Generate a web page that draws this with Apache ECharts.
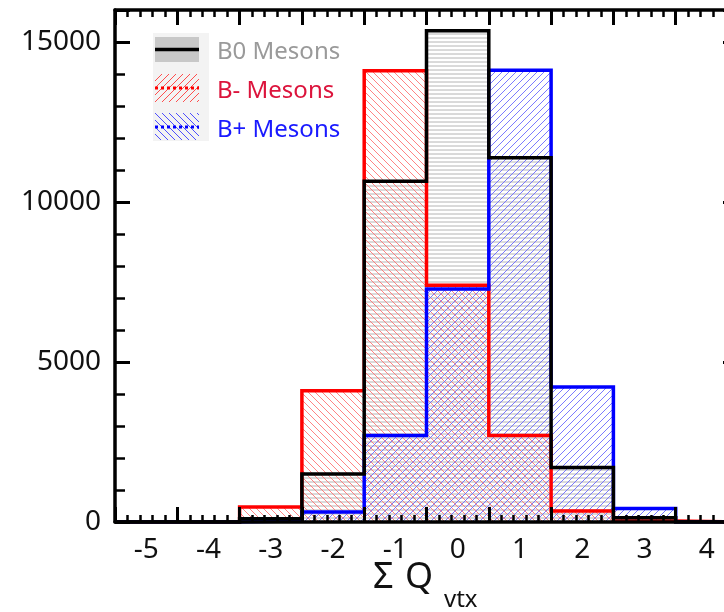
<!DOCTYPE html>
<html>
<head>
<meta charset="utf-8">
<script src="https://cdn.jsdelivr.net/npm/echarts@6/dist/echarts.min.js"></script>
<style>html,body{margin:0;padding:0;background:#fff;}#main{width:724px;height:612px;}</style>
</head>
<body>
<div id="main"></div>
<script>
// ---- data (bin centres and counts) ----
const categories = [-5, -4, -3, -2, -1, 0, 1, 2, 3, 4];
const b0Mesons    = [0, 0, 100, 1500, 10650, 15350, 11380, 1700, 130, 0];
const bMinusMesons = [0, 0, 470, 4100, 14100, 7400, 2700, 340, 30, 0];
const bPlusMesons  = [0, 0, 40, 310, 2700, 7280, 14120, 4220, 420, 0];
const yTicks = [0, 5000, 10000, 15000];
const legendNames = ['B0 Mesons', 'B- Mesons', 'B+ Mesons'];

const FONT = 'Noto Sans';

function hatch(color, dir, size, lw) {
  const c = document.createElement('canvas');
  c.width = size; c.height = size;
  const ctx = c.getContext('2d');
  ctx.strokeStyle = color; ctx.lineWidth = lw;
  ctx.beginPath();
  if (dir === 'h') {
    ctx.moveTo(0, size / 2); ctx.lineTo(size, size / 2);
  } else if (dir === 'back') { // "\"
    for (const k of [-size, 0, size]) { ctx.moveTo(0, k); ctx.lineTo(size, k + size); }
  } else { // "/"
    for (const k of [-size, 0, size]) { ctx.moveTo(0, k + size); ctx.lineTo(size, k); }
  }
  ctx.stroke();
  return { image: c, repeat: 'repeat' };
}

const patGray = hatch('#b4b4b4', 'h', 4, 1);
const patRed = hatch('rgba(255,110,110,0.85)', 'back', 7, 1);
const patBlue = hatch('rgba(100,100,255,0.85)', 'fwd', 7, 1);
const patRedLeg = hatch('rgba(255,60,60,0.9)', 'fwd', 7, 1);
const patBlueLeg = hatch('rgba(60,60,255,0.9)', 'back', 7, 1);

function barData(vals) { return categories.map((c, i) => [c, vals[i]]); }
function stepData(vals) {
  const pts = [[categories[0] - 0.5, 0]];
  categories.forEach((c, i) => { pts.push([c - 0.5, vals[i]]); pts.push([c + 0.5, vals[i]]); });
  pts.push([categories[categories.length - 1] + 0.5, 0]);
  return pts;
}
function fillSeries(vals, pat, z) {
  return {
    type: 'custom', xAxisIndex: 0, yAxisIndex: 0, z: z, clip: true, silent: true,
    data: barData(vals),
    renderItem: function (params, api) {
      const x = api.value(0), v = api.value(1);
      const p1 = api.coord([x - 0.5, v]);
      const p2 = api.coord([x + 0.5, 0]);
      return { type: 'rect', shape: { x: p1[0], y: p1[1], width: p2[0] - p1[0], height: p2[1] - p1[1] }, style: { fill: pat } };
    }
  };
}
function lineSeries(name, vals, color, z) {
  return {
    name: name, type: 'line', xAxisIndex: 0, yAxisIndex: 0, z: z, symbol: 'none', silent: true,
    data: stepData(vals), lineStyle: { color: color, width: 3.5, join: 'miter' }
  };
}

const xMin = -5.5, xMax = 4.5;
const tickStyle = { show: true, inside: true, length: 15, lineStyle: { color: '#000', width: 3 } };
const minorStyle = { show: true, splitNumber: 5, length: 7, lineStyle: { color: '#000', width: 2.5 } };
const lineStyleAxis = { show: true, onZero: false, lineStyle: { color: '#000', width: 3.5 } };

const chart = echarts.init(document.getElementById('main'), null, { renderer: 'canvas' });
chart.setOption({
  animation: false,
  backgroundColor: '#fff',
  grid: { left: 115, width: 623, top: 10, height: 512, show: false, containLabel: false, outerBoundsMode: 'none' },
  xAxis: [
    { type: 'value', position: 'bottom', min: xMin, max: xMax, interval: 0.5, z: 10,
      axisLine: { show: false }, axisTick: { show: false }, splitLine: { show: false },
      axisLabel: { margin: 14, color: '#111', fontFamily: FONT, fontSize: 28,
        formatter: v => (Math.abs(v - Math.round(v)) < 1e-6 && categories.indexOf(Math.round(v)) >= 0) ? String(Math.round(v)) : '' } },
    { type: 'value', position: 'bottom', min: xMin, max: xMax, interval: 1, z: 10,
      axisLine: lineStyleAxis, axisTick: tickStyle, minorTick: minorStyle,
      splitLine: { show: false }, axisLabel: { show: false } },
    { type: 'value', position: 'top', min: xMin, max: xMax, interval: 1, z: 10,
      axisLine: lineStyleAxis, axisTick: tickStyle, minorTick: minorStyle,
      splitLine: { show: false }, axisLabel: { show: false } }
  ],
  yAxis: [
    { type: 'value', position: 'left', min: 0, max: 16000, interval: 5000, z: 10,
      axisLine: lineStyleAxis, axisTick: tickStyle,
      minorTick: { show: true, splitNumber: 5, length: 10, lineStyle: { color: '#000', width: 2.5 } },
      splitLine: { show: false },
      axisLabel: { margin: 14, color: '#111', fontFamily: FONT, fontSize: 28,
        formatter: v => yTicks.indexOf(v) >= 0 ? String(v) : '' } },
    { type: 'value', position: 'right', min: 0, max: 16000, interval: 5000, z: 10,
      axisLine: lineStyleAxis, axisTick: tickStyle,
      minorTick: { show: true, splitNumber: 5, length: 10, lineStyle: { color: '#000', width: 2.5 } },
      splitLine: { show: false }, axisLabel: { show: false } }
  ],
  series: [
    fillSeries(b0Mesons, patGray, 1),
    fillSeries(bMinusMesons, patRed, 1),
    fillSeries(bPlusMesons, patBlue, 1),
    lineSeries(legendNames[1], bMinusMesons, '#ff0000', 3),
    lineSeries(legendNames[2], bPlusMesons, '#0000ff', 4),
    lineSeries(legendNames[0], b0Mesons, '#000000', 5)
  ],
  graphic: [
    { type: 'rect', left: 153, top: 33, shape: { width: 56, height: 108 }, style: { fill: '#f3f3f3' }, z: 20 },
    { type: 'rect', left: 155, top: 37, shape: { width: 44, height: 25 }, style: { fill: '#c8c8c8' }, z: 21 },
    { type: 'line', shape: { x1: 155, y1: 49.5, x2: 199, y2: 49.5 }, style: { stroke: '#000', lineWidth: 3.5 }, z: 22 },
    { type: 'rect', left: 155, top: 74, shape: { width: 44, height: 28 }, style: { fill: patRedLeg }, z: 21 },
    { type: 'line', shape: { x1: 155, y1: 88, x2: 199, y2: 88 }, style: { stroke: '#ff0000', lineWidth: 3, lineDash: [3, 3] }, z: 22 },
    { type: 'rect', left: 155, top: 113, shape: { width: 44, height: 27 }, style: { fill: patBlueLeg }, z: 21 },
    { type: 'line', shape: { x1: 155, y1: 127, x2: 199, y2: 127 }, style: { stroke: '#0000ff', lineWidth: 3, lineDash: [3, 3] }, z: 22 },
    { type: 'text', left: 217, top: 40, style: { text: legendNames[0], fill: '#9a9a9a', font: '24px "Noto Sans"' }, z: 22 },
    { type: 'text', left: 217, top: 79, style: { text: legendNames[1], fill: '#dc143c', font: '24px "Noto Sans"' }, z: 22 },
    { type: 'text', left: 217, top: 118, style: { text: legendNames[2], fill: '#1a1aff', font: '24px "Noto Sans"' }, z: 22 },
    { type: 'text', left: 373, top: 560, style: { text: 'Σ', fill: '#111', font: '36px "Noto Sans"' }, z: 22 },
    { type: 'text', left: 405, top: 560, style: { text: 'Q', fill: '#111', font: '36px "Noto Sans"' }, z: 22 },
    { type: 'text', left: 444, top: 588, style: { text: 'vtx', fill: '#111', font: '24px "Noto Sans"' }, z: 22 }
  ]
});
</script>
</body>
</html>
